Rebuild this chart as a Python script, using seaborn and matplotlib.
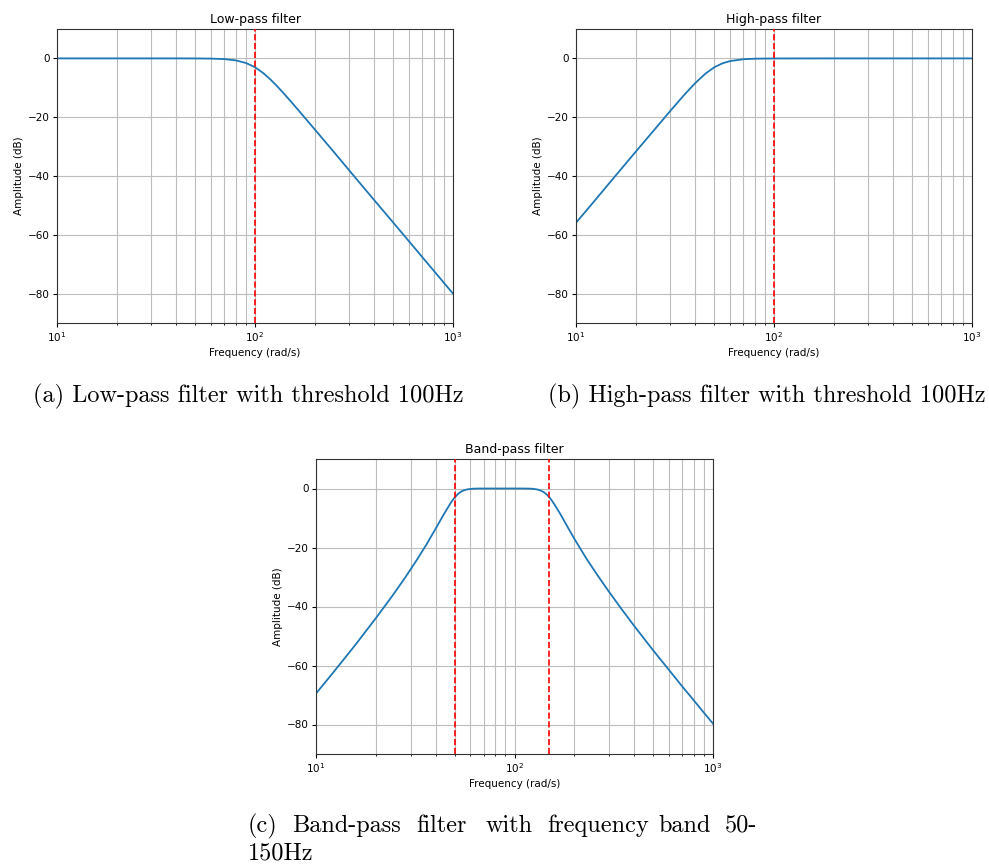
import matplotlib
matplotlib.use("Agg")
import matplotlib.pyplot as plt
import seaborn as sns
import pandas as pd

# ---------------- data ----------------
lp_freq = [10, 20, 30, 40, 50, 60, 70, 80, 90, 100, 110, 120, 130, 140, 150,
           170, 200, 250, 300, 400, 500, 700, 1000]
lp_db = [0.0, 0.0, 0.0, 0.0, -0.02, -0.07, -0.24, -0.67, -1.56, -3.0, -4.97,
         -7.24, -9.62, -11.98, -14.25, -18.5, -24.1, -31.8, -38.2, -48.2,
         -55.9, -67.6, -80.0]

hp_freq = [10, 12, 15, 20, 25, 30, 35, 40, 45, 50, 55, 60, 70, 80, 100,
           200, 500, 1000]
hp_db = [-55.9, -49.6, -41.8, -31.8, -24.1, -17.8, -12.6, -8.4, -5.2, -3.0,
         -1.66, -0.91, -0.29, -0.1, -0.02, 0.0, 0.0, 0.0]

bp_freq = [10, 12, 14, 16, 18, 20, 24, 28, 32, 36, 40, 44, 48, 50, 52, 54,
           56, 58, 62, 66, 75, 90, 100, 110, 120, 125, 130, 135, 140, 145,
           150, 155, 160, 170, 185, 200, 230, 260, 300, 350, 400, 500, 600,
           700, 800, 900, 1000]
bp_db = [-69.5, -63.0, -57.4, -52.5, -48.0, -44.0, -36.8, -30.4, -24.5,
         -19.0, -13.7, -8.8, -4.6, -3.0, -1.8, -1.0, -0.55, -0.28, -0.06,
         -0.01, 0.0, 0.0, 0.0, 0.0, -0.05, -0.14, -0.31, -0.64, -1.18, -1.97,
         -3.0, -4.3, -5.7, -8.6, -13.0, -17.0, -23.7, -29.1, -35.1, -41.3,
         -46.5, -54.9, -61.5, -67.1, -71.8, -76.0, -79.7]

titles = ["Low-pass filter", "High-pass filter", "Band-pass filter"]
cutoffs = [[100], [100], [50, 150]]
yticks = [0, -20, -40, -60, -80]
xlabel = "Frequency (rad/s)"
ylabel = "Amplitude (dB)"
cap_a = "(a) Low-pass filter with threshold 100Hz"
cap_b = "(b) High-pass filter with threshold 100Hz"
cap_c_line1 = ["(c)", "Band-pass", "filter", "with", "frequency", "band", "50-"]
cap_c_line2 = "150Hz"

# ---------------- style ----------------
plt.rcParams.update({
    "font.family": ["DejaVu Sans"],
    "font.size": 7.5,
    "axes.titlesize": 9,
    "axes.labelsize": 7.5,
    "xtick.labelsize": 7.5,
    "ytick.labelsize": 7.5,
    "axes.linewidth": 0.8,
    "xtick.major.size": 2.6,
    "ytick.major.size": 2.6,
    "xtick.minor.size": 1.5,
    "xtick.major.pad": 2.6,
    "ytick.major.pad": 2.6,
    "axes.titlepad": 4.5,
    "axes.labelpad": 3,
})

W, H = 989, 865
fig = plt.figure(figsize=(W / 100, H / 100), dpi=100)


def px_axes(left, top, right, bottom):
    return fig.add_axes([left / W, 1 - bottom / H, (right - left) / W,
                         (bottom - top) / H])


axes = [px_axes(57, 29, 453, 323), px_axes(576, 29, 972, 323),
        px_axes(316, 459, 713, 754)]
data = [(lp_freq, lp_db), (hp_freq, hp_db), (bp_freq, bp_db)]

for ax, (f, d), title, cuts in zip(axes, data, titles, cutoffs):
    ax.set_xscale("log")
    df = pd.DataFrame({"freq": f, "db": d})
    sns.lineplot(data=df, x="freq", y="db", ax=ax, color="#1f77b4",
                 linewidth=1.3)
    for c in cuts:
        ax.axvline(c, color="red", linestyle="--", linewidth=1.2, zorder=3)
    ax.set_xlim(10, 1000)
    ax.set_ylim(-90, 10)
    ax.set_yticks(yticks)
    ax.grid(True, which="both", color="#bdbdbd", linewidth=0.8)
    ax.set_axisbelow(True)
    ax.set_title(title)
    ax.set_xlabel(xlabel)
    ax.set_ylabel(ylabel)
    for s in ax.spines.values():
        s.set_color("#333333")

cap_kw = dict(fontfamily="cmr10", fontsize=17.5, va="baseline", ha="left")
fig.text(33 / W, 1 - 402 / H, cap_a, **cap_kw)
fig.text(548 / W, 1 - 402 / H, cap_b, **cap_kw)
word_x = [248, 292, 416, 486, 547, 658, 725]
for w, x in zip(cap_c_line1, word_x):
    fig.text(x / W, 1 - 832 / H, w, **cap_kw)
fig.text(248 / W, 1 - 860 / H, cap_c_line2, **cap_kw)

fig.savefig("out.png", dpi=100)
